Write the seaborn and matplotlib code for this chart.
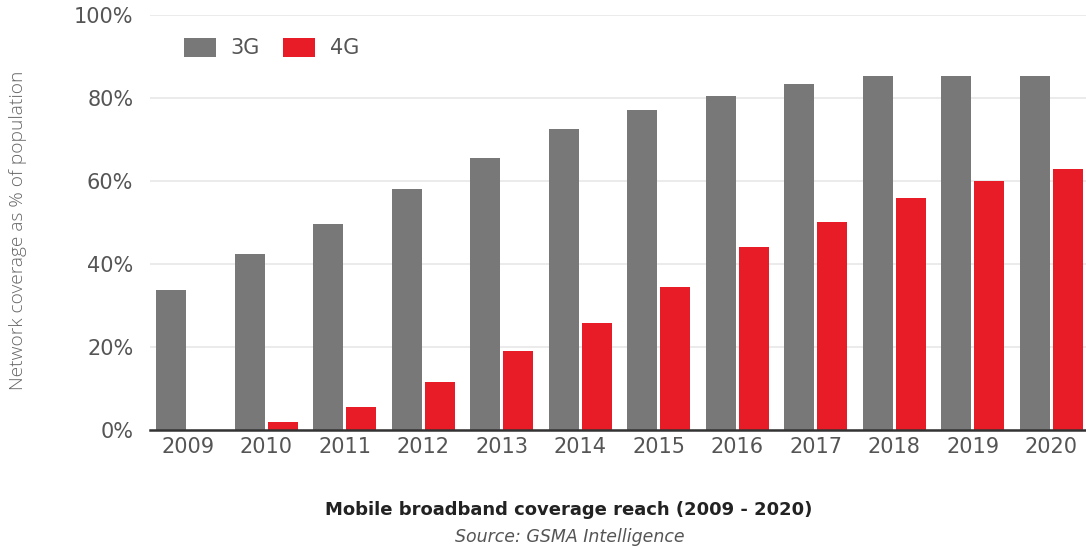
import matplotlib
matplotlib.use("Agg")
import matplotlib.pyplot as plt
import seaborn as sns
import pandas as pd

years = ["2009", "2010", "2011", "2012", "2013", "2014",
         "2015", "2016", "2017", "2018", "2019", "2020"]
coverage_3g = [33.7, 42.4, 49.6, 58.0, 65.5, 72.5, 77.1, 80.5, 83.4, 85.3, 85.3, 85.3]
coverage_4g = [0.0, 2.0, 5.5, 11.5, 19.0, 25.8, 34.5, 44.0, 50.0, 56.0, 60.0, 63.0]
technologies = ["3G", "4G"]
colors = {"3G": "#787878", "4G": "#E81C27"}
y_ticks = [0, 20, 40, 60, 80, 100]

df = pd.DataFrame({
    "year": years * 2,
    "tech": ["3G"] * len(years) + ["4G"] * len(years),
    "coverage": coverage_3g + coverage_4g,
})

sns.set_theme(style="white")
plt.rcParams["font.family"] = ["DejaVu Sans"]

fig = plt.figure(figsize=(10.86, 5.48), dpi=100)
ax = fig.add_axes([150 / 1086, 1 - 430 / 548, 1 - 150 / 1086, 415 / 548])

sns.barplot(data=df, x="year", y="coverage", hue="tech", hue_order=technologies,
            palette=colors, width=0.84, gap=0.09, saturation=1, linewidth=0,
            ax=ax, zorder=3)

ax.set_ylim(0, 100)
ax.set_xlim(-0.48, 11.44)
ax.set_yticks(y_ticks)
ax.set_yticklabels([f"{t}%" for t in y_ticks])
ax.yaxis.grid(True, color="#e8e8e8", linewidth=1.2, zorder=0)
ax.set_axisbelow(True)
for s in ["top", "right", "left"]:
    ax.spines[s].set_visible(False)
ax.spines["bottom"].set_color("#333333")
ax.spines["bottom"].set_linewidth(1.8)
ax.spines["bottom"].set_zorder(5)
ax.tick_params(axis="both", length=0, labelsize=15, colors="#555555")
ax.tick_params(axis="y", pad=12)
ax.tick_params(axis="x", pad=5)
ax.set_xlabel("")
ax.set_ylabel("")

fig.text(18 / 1086, 1 - 230 / 548, "Network coverage as % of population",
         rotation=90, ha="center", va="center", fontsize=13.8,
         color="#666666", family="Open Sans", fontweight="light")

handles, labels = ax.get_legend_handles_labels()
ax.legend(handles, labels, loc="center left", bbox_to_anchor=(0.016, 0.92),
          ncol=2, frameon=False, fontsize=15, handlelength=1.55,
          handleheight=1.0, handletextpad=0.7, columnspacing=1.1,
          labelcolor="#555555")

fig.text(569 / 1086, 1 - 510 / 548, "Mobile broadband coverage reach (2009 - 2020)",
         ha="center", va="center", fontsize=13, fontweight="bold",
         color="#222222", family="DejaVu Sans")
fig.text(570 / 1086, 1 - 537 / 548, "Source: GSMA Intelligence",
         ha="center", va="center", fontsize=12.5, style="italic",
         color="#555555", family="DejaVu Sans")

fig.savefig("out.png", dpi=100, facecolor="white")
